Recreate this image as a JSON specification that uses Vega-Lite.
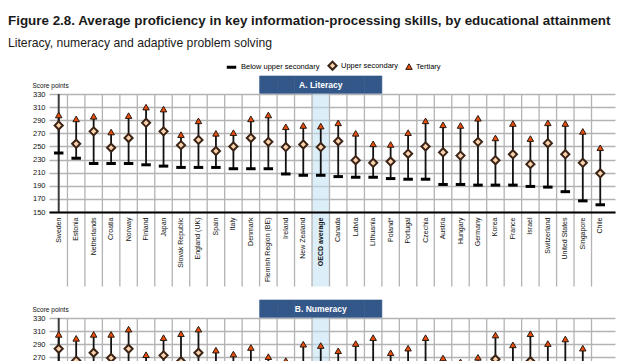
{
  "$schema": "https://vega.github.io/schema/vega-lite/v6.json",
  "padding": {"left": 8, "top": 14, "right": 4, "bottom": 4},
  "background": "white",
  "title": {
    "text": "Figure 2.8. Average proficiency in key information-processing skills, by educational attainment",
    "subtitle": "Literacy, numeracy and adaptive problem solving",
    "anchor": "start",
    "frame": "group",
    "dx": -41,
    "font": "Liberation Sans",
    "fontSize": 13.4,
    "fontWeight": "bold",
    "color": "#1a1a1a",
    "subtitleFont": "Liberation Sans",
    "subtitleFontSize": 12.2,
    "subtitleColor": "#1a1a1a",
    "subtitlePadding": 9,
    "offset": 11
  },
  "bounds": "flush",
  "spacing": 106,
  "config": {
    "view": {"stroke": null},
    "font": "Liberation Sans",
    "axis": {"labelFont": "Liberation Sans", "titleFont": "Liberation Sans"},
    "legend": {"labelFont": "Liberation Sans"}
  },
  "datasets": {
    "lit": [
      {"country": "Sweden", "Below upper secondary": 240, "Upper secondary": 282, "Tertiary": 298},
      {"country": "Estonia", "Below upper secondary": 232, "Upper secondary": 254, "Tertiary": 292},
      {"country": "Netherlands", "Below upper secondary": 224, "Upper secondary": 273, "Tertiary": 296},
      {"country": "Croatia", "Below upper secondary": 224, "Upper secondary": 248, "Tertiary": 272},
      {"country": "Norway", "Below upper secondary": 224, "Upper secondary": 263, "Tertiary": 297},
      {"country": "Finland", "Below upper secondary": 222, "Upper secondary": 286, "Tertiary": 310},
      {"country": "Japan", "Below upper secondary": 220, "Upper secondary": 273, "Tertiary": 307},
      {"country": "Slovak Republic", "Below upper secondary": 218, "Upper secondary": 252, "Tertiary": 268},
      {"country": "England (UK)", "Below upper secondary": 218, "Upper secondary": 260, "Tertiary": 289},
      {"country": "Spain", "Below upper secondary": 218, "Upper secondary": 243, "Tertiary": 270},
      {"country": "Italy", "Below upper secondary": 216, "Upper secondary": 250, "Tertiary": 271},
      {"country": "Denmark", "Below upper secondary": 216, "Upper secondary": 263, "Tertiary": 292},
      {"country": "Flemish Region (BE)", "Below upper secondary": 216, "Upper secondary": 257, "Tertiary": 298},
      {"country": "Ireland", "Below upper secondary": 208, "Upper secondary": 249, "Tertiary": 280},
      {"country": "New Zealand", "Below upper secondary": 206, "Upper secondary": 253, "Tertiary": 282},
      {"country": "OECD average", "Below upper secondary": 206, "Upper secondary": 249, "Tertiary": 281},
      {"country": "Canada", "Below upper secondary": 204, "Upper secondary": 258, "Tertiary": 286},
      {"country": "Latvia", "Below upper secondary": 203, "Upper secondary": 229, "Tertiary": 270},
      {"country": "Lithuania", "Below upper secondary": 203, "Upper secondary": 225, "Tertiary": 254},
      {"country": "Poland*", "Below upper secondary": 201, "Upper secondary": 227, "Tertiary": 253},
      {"country": "Portugal", "Below upper secondary": 200, "Upper secondary": 239, "Tertiary": 271},
      {"country": "Czechia", "Below upper secondary": 200, "Upper secondary": 250, "Tertiary": 289},
      {"country": "Austria", "Below upper secondary": 192, "Upper secondary": 241, "Tertiary": 283},
      {"country": "Hungary", "Below upper secondary": 192, "Upper secondary": 236, "Tertiary": 282},
      {"country": "Germany", "Below upper secondary": 191, "Upper secondary": 257, "Tertiary": 293},
      {"country": "Korea", "Below upper secondary": 191, "Upper secondary": 229, "Tertiary": 263},
      {"country": "France", "Below upper secondary": 191, "Upper secondary": 238, "Tertiary": 285},
      {"country": "Israel", "Below upper secondary": 189, "Upper secondary": 223, "Tertiary": 262},
      {"country": "Switzerland", "Below upper secondary": 188, "Upper secondary": 255, "Tertiary": 286},
      {"country": "United States", "Below upper secondary": 181, "Upper secondary": 238, "Tertiary": 285},
      {"country": "Singapore", "Below upper secondary": 167, "Upper secondary": 225, "Tertiary": 273},
      {"country": "Chile", "Below upper secondary": 161, "Upper secondary": 209, "Tertiary": 248}
    ],
    "num": [
      {"country": "Sweden", "Below upper secondary": 238, "Upper secondary": 283, "Tertiary": 305},
      {"country": "Estonia", "Below upper secondary": 232, "Upper secondary": 265, "Tertiary": 299},
      {"country": "Netherlands", "Below upper secondary": 222, "Upper secondary": 277, "Tertiary": 305},
      {"country": "Croatia", "Below upper secondary": 226, "Upper secondary": 269, "Tertiary": 305},
      {"country": "Norway", "Below upper secondary": 228, "Upper secondary": 283, "Tertiary": 313},
      {"country": "Finland", "Below upper secondary": 214, "Upper secondary": 240, "Tertiary": 274},
      {"country": "Japan", "Below upper secondary": 225, "Upper secondary": 273, "Tertiary": 300},
      {"country": "Slovak Republic", "Below upper secondary": 218, "Upper secondary": 264, "Tertiary": 306},
      {"country": "England (UK)", "Below upper secondary": 220, "Upper secondary": 277, "Tertiary": 313},
      {"country": "Spain", "Below upper secondary": 210, "Upper secondary": 245, "Tertiary": 281},
      {"country": "Italy", "Below upper secondary": 209, "Upper secondary": 243, "Tertiary": 275},
      {"country": "Denmark", "Below upper secondary": 212, "Upper secondary": 250, "Tertiary": 285},
      {"country": "Flemish Region (BE)", "Below upper secondary": 205, "Upper secondary": 240, "Tertiary": 271},
      {"country": "Ireland", "Below upper secondary": 200, "Upper secondary": 236, "Tertiary": 265},
      {"country": "New Zealand", "Below upper secondary": 205, "Upper secondary": 252, "Tertiary": 290},
      {"country": "OECD average", "Below upper secondary": 204, "Upper secondary": 250, "Tertiary": 288},
      {"country": "Canada", "Below upper secondary": 200, "Upper secondary": 245, "Tertiary": 280},
      {"country": "Latvia", "Below upper secondary": 202, "Upper secondary": 252, "Tertiary": 291},
      {"country": "Lithuania", "Below upper secondary": 205, "Upper secondary": 255, "Tertiary": 300},
      {"country": "Poland*", "Below upper secondary": 200, "Upper secondary": 240, "Tertiary": 277},
      {"country": "Portugal", "Below upper secondary": 198, "Upper secondary": 245, "Tertiary": 284},
      {"country": "Czechia", "Below upper secondary": 200, "Upper secondary": 258, "Tertiary": 300},
      {"country": "Austria", "Below upper secondary": 190, "Upper secondary": 235, "Tertiary": 269},
      {"country": "Hungary", "Below upper secondary": 188, "Upper secondary": 230, "Tertiary": 263},
      {"country": "Germany", "Below upper secondary": 190, "Upper secondary": 236, "Tertiary": 270},
      {"country": "Korea", "Below upper secondary": 196, "Upper secondary": 267, "Tertiary": 304},
      {"country": "France", "Below upper secondary": 192, "Upper secondary": 252, "Tertiary": 289},
      {"country": "Israel", "Below upper secondary": 190, "Upper secondary": 264, "Tertiary": 306},
      {"country": "Switzerland", "Below upper secondary": 185, "Upper secondary": 255, "Tertiary": 291},
      {"country": "United States", "Below upper secondary": 178, "Upper secondary": 250, "Tertiary": 298},
      {"country": "Singapore", "Below upper secondary": 170, "Upper secondary": 245, "Tertiary": 284},
      {"country": "Chile", "Below upper secondary": 160, "Upper secondary": 210, "Tertiary": 245}
    ]
  },
  "vconcat": [
    {
      "width": 566,
      "height": 118,
      "data": {"name": "lit"},
      "encoding": {
        "x": {
          "field": "country", "type": "nominal", "sort": null, "title": null,
          "scale": {"domain": ["Sweden", "Estonia", "Netherlands", "Croatia", "Norway", "Finland", "Japan", "Slovak Republic", "England (UK)", "Spain", "Italy", "Denmark", "Flemish Region (BE)", "Ireland", "New Zealand", "OECD average", "Canada", "Latvia", "Lithuania", "Poland*", "Portugal", "Czechia", "Austria", "Hungary", "Germany", "Korea", "France", "Israel", "Switzerland", "United States", "Singapore", "Chile"], "paddingInner": 0, "paddingOuter": 0.2, "align": 0.14},
          "axis": {
            "grid": false, "ticks": false, "domain": true, "domainColor": "#000000", "domainWidth": 2,
            "labelAngle": 270, "labelFontSize": 7, "labelPadding": 5, "labelColor": "#111111", "labelLimit": 200, "labelOverlap": false,
            "labelFontWeight": {"condition": {"test": "datum.value === 'OECD average'", "value": "bold"}, "value": "normal"}
          }
        }
      },
      "layer": [
        {
          "transform": [{"filter": "datum.country === 'OECD average'"}],
          "mark": {"type": "rect", "fill": "#bfe2f4", "opacity": 0.55},
          "encoding": {
            "y": {
              "datum": 330, "type": "quantitative", "title": "Score points",
              "scale": {"domain": [150, 330], "nice": false, "zero": false},
              "axis": {
                "values": [150, 170, 190, 210, 230, 250, 270, 290, 310, 330], "tickCount": 10,
                "grid": true, "gridColor": "#b3b3b3", "gridWidth": 1.3, "labelOverlap": false,
                "domain": false, "ticks": false, "labelFontSize": 7.5, "labelPadding": 4, "labelColor": "#111111",
                "titleAngle": 0, "titleAlign": "left", "titleBaseline": "alphabetic",
                "titleX": -17, "titleY": -7, "titleFontSize": 6.5, "titleFontWeight": "normal", "titleColor": "#111111"
              }
            },
            "y2": {"datum": 36.4}
          }
        },
        {
          "transform": [{"filter": "datum.country !== 'Sweden'"}],
          "mark": {"type": "rule", "color": "#b3b3b3", "strokeWidth": 1.3},
          "encoding": {
            "x": {"field": "country", "type": "nominal", "sort": null, "bandPosition": 0},
            "y": {"datum": 330, "type": "quantitative", "title": "Score points"},
            "y2": {"datum": 36.4}
          }
        },
        {
          "transform": [{"filter": "datum.country === 'Sweden'"}],
          "mark": {"type": "rule", "color": "#3c3c3c", "strokeWidth": 2},
          "encoding": {"y": {"datum": 330, "type": "quantitative", "title": "Score points"}}
        },
        {
          "transform": [{"filter": {"field": "country", "oneOf": ["Flemish Region (BE)", "Ireland", "New Zealand", "OECD average", "Canada", "Latvia", "Lithuania"]}}],
          "mark": {"type": "rect", "fill": "#34578a", "stroke": "#34578a", "strokeWidth": 0.6},
          "encoding": {
            "y": {"datum": 331, "type": "quantitative", "title": "Score points"},
            "y2": {"datum": 357.5}
          }
        },
        {
          "transform": [{"filter": "datum.country === 'OECD average'"}],
          "mark": {"type": "text", "color": "white", "fontWeight": "bold", "fontSize": 8.5, "baseline": "middle", "align": "center"},
          "encoding": {
            "y": {"datum": 344, "type": "quantitative", "title": "Score points"},
            "text": {"value": "A. Literacy"}
          }
        },
        {
          "mark": {"type": "rule", "color": "#111111", "strokeWidth": 1.8},
          "encoding": {
            "y": {"field": "Below upper secondary", "type": "quantitative", "title": "Score points"},
            "y2": {"field": "Tertiary"}
          }
        },
        {
          "transform": [{"fold": ["Below upper secondary", "Upper secondary", "Tertiary"], "as": ["level", "score"]}],
          "mark": {"type": "point", "filled": true, "opacity": 1},
          "encoding": {
            "y": {"field": "score", "type": "quantitative", "title": "Score points"},
            "shape": {
              "field": "level", "type": "nominal", "title": null,
              "scale": {"domain": ["Below upper secondary", "Upper secondary", "Tertiary"], "range": ["stroke", "diamond", "triangle-up"]},
              "legend": {"orient": "none", "legendX": 176, "legendY": -34, "direction": "horizontal", "labelFontSize": 7.5, "columnPadding": 4, "symbolOffset": 0, "labelOffset": 3}
            },
            "fill": {
              "field": "level", "type": "nominal", "title": null,
              "scale": {"domain": ["Below upper secondary", "Upper secondary", "Tertiary"], "range": ["#000000", "#fcd2ad", "#e94e0c"]},
              "legend": {"orient": "none", "legendX": 176, "legendY": -34, "direction": "horizontal", "labelFontSize": 7.5, "columnPadding": 4, "symbolOffset": 0, "labelOffset": 3}
            },
            "stroke": {
              "field": "level", "type": "nominal", "title": null,
              "scale": {"domain": ["Below upper secondary", "Upper secondary", "Tertiary"], "range": ["#000000", "#3b2416", "#2a1a10"]},
              "legend": {"orient": "none", "legendX": 176, "legendY": -34, "direction": "horizontal", "labelFontSize": 7.5, "columnPadding": 4, "symbolOffset": 0, "labelOffset": 3}
            },
            "strokeWidth": {
              "field": "level", "type": "nominal", "title": null,
              "scale": {"domain": ["Below upper secondary", "Upper secondary", "Tertiary"], "range": [3, 1, 1]},
              "legend": {"orient": "none", "legendX": 176, "legendY": -34, "direction": "horizontal", "labelFontSize": 7.5, "columnPadding": 4, "symbolOffset": 0, "labelOffset": 3}
            },
            "size": {
              "field": "level", "type": "nominal", "title": null,
              "scale": {"domain": ["Below upper secondary", "Upper secondary", "Tertiary"], "range": [90, 42, 64]},
              "legend": {"orient": "none", "legendX": 176, "legendY": -34, "direction": "horizontal", "labelFontSize": 7.5, "columnPadding": 4, "symbolOffset": 0, "labelOffset": 3}
            }
          }
        }
      ]
    },
    {
      "width": 566,
      "height": 118,
      "data": {"name": "num"},
      "encoding": {
        "x": {
          "field": "country", "type": "nominal", "sort": null, "title": null,
          "scale": {"domain": ["Sweden", "Estonia", "Netherlands", "Croatia", "Norway", "Finland", "Japan", "Slovak Republic", "England (UK)", "Spain", "Italy", "Denmark", "Flemish Region (BE)", "Ireland", "New Zealand", "OECD average", "Canada", "Latvia", "Lithuania", "Poland*", "Portugal", "Czechia", "Austria", "Hungary", "Germany", "Korea", "France", "Israel", "Switzerland", "United States", "Singapore", "Chile"], "paddingInner": 0, "paddingOuter": 0.2, "align": 0.14},
          "axis": {
            "grid": false, "ticks": false, "domain": true, "domainColor": "#000000", "domainWidth": 2,
            "labelAngle": 270, "labelFontSize": 7, "labelPadding": 5, "labelColor": "#111111", "labelLimit": 200, "labelOverlap": false,
            "labelFontWeight": {"condition": {"test": "datum.value === 'OECD average'", "value": "bold"}, "value": "normal"}
          }
        }
      },
      "layer": [
        {
          "transform": [{"filter": "datum.country === 'OECD average'"}],
          "mark": {"type": "rect", "fill": "#bfe2f4", "opacity": 0.55},
          "encoding": {
            "y": {
              "datum": 330, "type": "quantitative", "title": "Score points",
              "scale": {"domain": [150, 330], "nice": false, "zero": false},
              "axis": {
                "values": [150, 170, 190, 210, 230, 250, 270, 290, 310, 330], "tickCount": 10,
                "grid": true, "gridColor": "#b3b3b3", "gridWidth": 1.3, "labelOverlap": false,
                "domain": false, "ticks": false, "labelFontSize": 7.5, "labelPadding": 4, "labelColor": "#111111",
                "titleAngle": 0, "titleAlign": "left", "titleBaseline": "alphabetic",
                "titleX": -17, "titleY": -7, "titleFontSize": 6.5, "titleFontWeight": "normal", "titleColor": "#111111"
              }
            },
            "y2": {"datum": 36.4}
          }
        },
        {
          "transform": [{"filter": "datum.country !== 'Sweden'"}],
          "mark": {"type": "rule", "color": "#b3b3b3", "strokeWidth": 1.3},
          "encoding": {
            "x": {"field": "country", "type": "nominal", "sort": null, "bandPosition": 0},
            "y": {"datum": 330, "type": "quantitative", "title": "Score points"},
            "y2": {"datum": 36.4}
          }
        },
        {
          "transform": [{"filter": "datum.country === 'Sweden'"}],
          "mark": {"type": "rule", "color": "#3c3c3c", "strokeWidth": 2},
          "encoding": {"y": {"datum": 330, "type": "quantitative", "title": "Score points"}}
        },
        {
          "transform": [{"filter": {"field": "country", "oneOf": ["Flemish Region (BE)", "Ireland", "New Zealand", "OECD average", "Canada", "Latvia", "Lithuania"]}}],
          "mark": {"type": "rect", "fill": "#34578a", "stroke": "#34578a", "strokeWidth": 0.6},
          "encoding": {
            "y": {"datum": 331, "type": "quantitative", "title": "Score points"},
            "y2": {"datum": 357.5}
          }
        },
        {
          "transform": [{"filter": "datum.country === 'OECD average'"}],
          "mark": {"type": "text", "color": "white", "fontWeight": "bold", "fontSize": 8.5, "baseline": "middle", "align": "center"},
          "encoding": {
            "y": {"datum": 344, "type": "quantitative", "title": "Score points"},
            "text": {"value": "B. Numeracy"}
          }
        },
        {
          "mark": {"type": "rule", "color": "#111111", "strokeWidth": 1.8},
          "encoding": {
            "y": {"field": "Below upper secondary", "type": "quantitative", "title": "Score points"},
            "y2": {"field": "Tertiary"}
          }
        },
        {
          "transform": [{"fold": ["Below upper secondary", "Upper secondary", "Tertiary"], "as": ["level", "score"]}],
          "mark": {"type": "point", "filled": true, "opacity": 1},
          "encoding": {
            "y": {"field": "score", "type": "quantitative", "title": "Score points"},
            "shape": {"field": "level", "type": "nominal", "title": null, "scale": {"domain": ["Below upper secondary", "Upper secondary", "Tertiary"], "range": ["stroke", "diamond", "triangle-up"]}, "legend": null},
            "fill": {"field": "level", "type": "nominal", "title": null, "scale": {"domain": ["Below upper secondary", "Upper secondary", "Tertiary"], "range": ["#000000", "#fcd2ad", "#e94e0c"]}, "legend": null},
            "stroke": {"field": "level", "type": "nominal", "title": null, "scale": {"domain": ["Below upper secondary", "Upper secondary", "Tertiary"], "range": ["#000000", "#3b2416", "#2a1a10"]}, "legend": null},
            "strokeWidth": {"field": "level", "type": "nominal", "title": null, "scale": {"domain": ["Below upper secondary", "Upper secondary", "Tertiary"], "range": [3, 1, 1]}, "legend": null},
            "size": {"field": "level", "type": "nominal", "title": null, "scale": {"domain": ["Below upper secondary", "Upper secondary", "Tertiary"], "range": [90, 42, 64]}, "legend": null}
          }
        }
      ]
    }
  ]
}
